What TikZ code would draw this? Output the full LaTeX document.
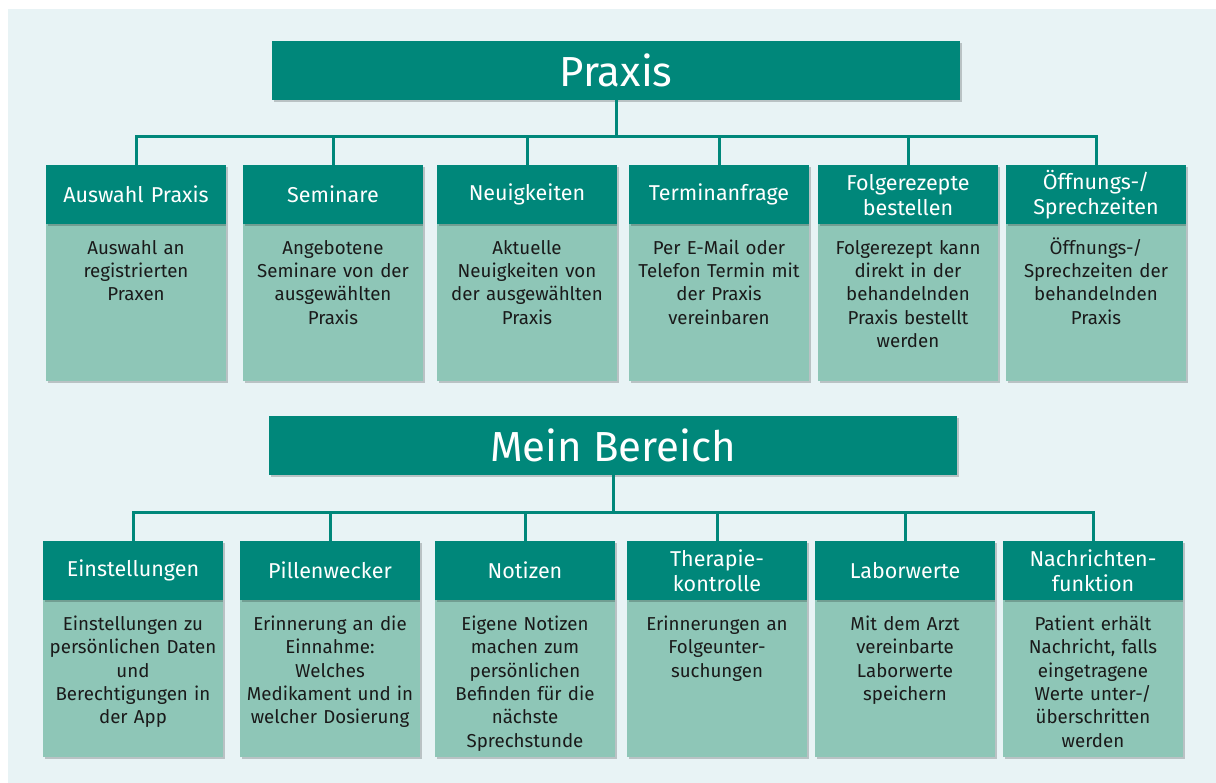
\documentclass[tikz,border=0pt]{standalone}
\usepackage{fontspec}
\setmainfont{Fira Sans}
\usetikzlibrary{positioning,shadows}

\definecolor{praxisgruen}{HTML}{00877A}
\definecolor{hellgruen}{HTML}{8EC6B7}
\definecolor{hintergrund}{HTML}{E8F3F5}
\definecolor{textdunkel}{HTML}{1A1A1A}

\tikzset{
  schatten/.style={drop shadow={shadow xshift=1.5pt, shadow yshift=-1.8pt, opacity=0.2, fill=black}},
  titel/.style={fill=praxisgruen, text=white, minimum width=688pt, minimum height=59pt,
    inner sep=0pt, font=\fontsize{42}{46}\selectfont, schatten},
  kopf/.style={fill=praxisgruen, text=white, text width=176pt, minimum width=180pt,
    minimum height=59pt, inner sep=0pt, align=center, anchor=north,
    font=\fontsize{21.5}{25}\selectfont, schatten},
  inhalt/.style={fill=hellgruen, text=textdunkel, text width=176pt, inner xsep=2pt,
    inner ysep=0pt, text height=30pt, text depth=127pt, align=center, anchor=north,
    font=\fontsize{18.7}{23.4}\selectfont, schatten},
  verbindung/.style={draw=praxisgruen, line width=3pt},
}

\begin{document}
\begin{tikzpicture}[x=1pt, y=-1pt]

% Parameter
\def\ykopfa{165}
\def\yinhalta{224}
\def\ykopfb{541}
\def\yinhaltb{600}

\useasboundingbox (0,0) rectangle (1216,783);
\fill[hintergrund] (8,9) rectangle (1216,783);

% ---------- Praxis ----------
\node[titel] (praxis) at (616,70.5) {Praxis};

\node[inhalt] (ip1) at (136,\yinhalta) {Auswahl an\\registrierten\\Praxen};
\node[kopf] (kp1) at (136,\ykopfa) {Auswahl Praxis};
\node[inhalt] (ip2) at (333,\yinhalta) {Angebotene\\Seminare von der\\ausgewählten\\Praxis};
\node[kopf] (kp2) at (333,\ykopfa) {Seminare};
\node[inhalt] (ip3) at (527,\yinhalta) {Aktuelle\\Neuigkeiten von\\der ausgewählten\\Praxis};
\node[kopf] (kp3) at (527,\ykopfa) {Neuigkeiten};
\node[inhalt] (ip4) at (719,\yinhalta) {Per E-Mail oder\\Telefon Termin mit\\der Praxis\\vereinbaren};
\node[kopf] (kp4) at (719,\ykopfa) {Terminanfrage};
\node[inhalt] (ip5) at (908,\yinhalta) {Folgerezept kann\\direkt in der\\behandelnden\\Praxis bestellt\\werden};
\node[kopf] (kp5) at (908,\ykopfa) {Folgerezepte\\bestellen};
\node[inhalt] (ip6) at (1096,\yinhalta) {Öffnungs-/\\Sprechzeiten der\\behandelnden\\Praxis};
\node[kopf] (kp6) at (1096,\ykopfa) {Öffnungs-/\\Sprechzeiten};

\coordinate (pleiste) at (612,136.5);
\draw[verbindung] (praxis.south) -- (praxis.south |- pleiste);
\draw[verbindung] (kp1.north) -- (kp1.north |- pleiste) -- (kp6.north |- pleiste) -- (kp6.north);
\draw[verbindung] (kp2.north) -- (kp2.north |- pleiste);
\draw[verbindung] (kp3.north) -- (kp3.north |- pleiste);
\draw[verbindung] (kp4.north) -- (kp4.north |- pleiste);
\draw[verbindung] (kp5.north) -- (kp5.north |- pleiste);

% ---------- Mein Bereich ----------
\node[titel] (bereich) at (613,445.5) {Mein Bereich};

\node[inhalt] (ib1) at (133,\yinhaltb) {Einstellungen zu\\persönlichen Daten\\und\\Berechtigungen in\\der App};
\node[kopf] (kb1) at (133,\ykopfb) {Einstellungen};
\node[inhalt] (ib2) at (330,\yinhaltb) {Erinnerung an die\\Einnahme:\\Welches\\Medikament und in\\welcher Dosierung};
\node[kopf] (kb2) at (330,\ykopfb) {Pillenwecker};
\node[inhalt] (ib3) at (525,\yinhaltb) {Eigene Notizen\\machen zum\\persönlichen\\Befinden für die\\nächste\\Sprechstunde};
\node[kopf] (kb3) at (525,\ykopfb) {Notizen};
\node[inhalt] (ib4) at (717,\yinhaltb) {Erinnerungen an\\Folgeunter-\\suchungen};
\node[kopf] (kb4) at (717,\ykopfb) {Therapie-\\kontrolle};
\node[inhalt] (ib5) at (905,\yinhaltb) {Mit dem Arzt\\vereinbarte\\Laborwerte\\speichern};
\node[kopf] (kb5) at (905,\ykopfb) {Laborwerte};
\node[inhalt] (ib6) at (1093,\yinhaltb) {Patient erhält\\Nachricht, falls\\eingetragene\\Werte unter-/\\überschritten\\werden};
\node[kopf] (kb6) at (1093,\ykopfb) {Nachrichten-\\funktion};

\coordinate (bleiste) at (608,512.5);
\draw[verbindung] (bereich.south) -- (bereich.south |- bleiste);
\draw[verbindung] (kb1.north) -- (kb1.north |- bleiste) -- (kb6.north |- bleiste) -- (kb6.north);
\draw[verbindung] (kb2.north) -- (kb2.north |- bleiste);
\draw[verbindung] (kb3.north) -- (kb3.north |- bleiste);
\draw[verbindung] (kb4.north) -- (kb4.north |- bleiste);
\draw[verbindung] (kb5.north) -- (kb5.north |- bleiste);

\end{tikzpicture}
\end{document}
